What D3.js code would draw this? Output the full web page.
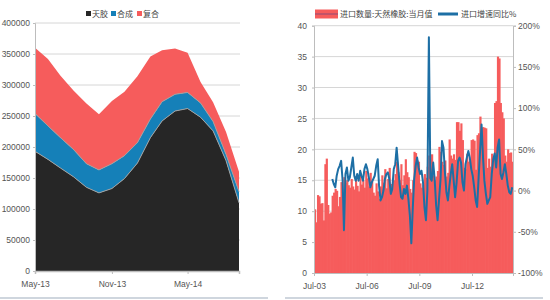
<!DOCTYPE html>
<html>
<head>
<meta charset="utf-8">
<script src="https://cdn.jsdelivr.net/npm/d3@7"></script>
<style>
body { margin: 0; background: #fff; }
svg { display: block; font-family: Lato, "Noto Sans CJK SC", sans-serif; }
.axis text { fill: #555; font-size: 8.5px; }
.axis path, .axis line { stroke: #bdbdbd; }
.legend text { font-family: "Noto Sans CJK SC", sans-serif; font-size: 8px; fill: #444; }
</style>
</head>
<body>
<svg id="chart" width="550" height="300"></svg>
<script>
//Left panel data: monthly imports by type (tons)
const stackMonths = ["2013-05", "2013-06", "2013-07", "2013-08", "2013-09", "2013-10", "2013-11", "2013-12",
    "2014-01", "2014-02", "2014-03", "2014-04", "2014-05", "2014-06", "2014-07", "2014-08", "2014-09"];
const naturalRubber = [193000, 180000, 166000, 152000, 135000, 126000, 133000, 149000, 174000,
    215000, 242000, 258000, 262000, 248000, 226000, 178000, 110000];
const syntheticRubber = [61000, 54000, 49000, 44000, 38000, 37000, 40000, 37000, 33000,
    30000, 31000, 27000, 26000, 23000, 15000, 10000, 18000];
const compoundRubber = [106000, 108000, 100000, 95000, 97000, 90000, 101000, 103000, 107000,
    101000, 83000, 74000, 64000, 34000, 31000, 36000, 32000];
const stackKeys = ["天胶", "合成", "复合"];
const stackColors = ["#262626", "#1580b8", "#f65c5c"];
const stackTicks = ["2013-05", "2013-11", "2014-05"];

//Right panel data: natural rubber imports (10k tons) and YoY growth (%)
const importStart = "2003-07";
const importVolume = [
    10.3, 8.2, 12.6, 12.4, 11.2, 11.3, 8.5, 17.6, 18.5, 11.0, 9.6, 9.8,
    12.5, 13.0, 13.6, 13.3, 10.8, 12.3, 14.7, 13.0, 15.5, 14.6, 15.0, 14.2,
    13.8, 15.2, 14.0, 13.5, 15.6, 14.1, 13.2, 16.0, 14.3, 15.0, 13.8, 16.5,
    15.3, 14.0, 16.2, 14.8, 13.0, 12.5, 14.5, 13.2, 12.0, 14.0, 15.8, 14.6,
    16.8, 13.7, 15.2, 17.0, 14.4, 13.6, 15.0, 16.0, 18.0, 16.3, 15.0, 17.6,
    14.2, 15.8, 18.4, 16.3, 15.5, 13.6, 13.0, 15.0, 19.6, 19.4, 18.2, 18.0,
    14.5, 13.8, 14.2, 16.0, 15.4, 17.2, 19.0, 18.6, 19.2, 15.8, 15.0, 15.6,
    16.5, 20.4, 19.6, 18.0, 17.5, 18.2, 15.6, 16.2, 21.6, 19.0, 18.5, 19.2,
    18.3, 24.4, 24.4, 23.0, 24.2, 21.5, 17.0, 16.8, 19.3, 18.0, 18.2, 21.5,
    21.6, 21.4, 16.7, 22.3, 22.6, 25.3, 23.5, 23.6, 23.5, 23.4, 17.0, 18.5,
    17.2, 19.3, 18.8, 27.5, 27.8, 35.0, 34.7, 27.5, 26.0, 25.0, 19.0, 18.0,
    20.0, 19.4, 19.5, 18.0];
const yoyStart = "2004-07";
const importYoY = [
    14, 8, 4, 18, 26, 30, 36, 12, -48, 20, 28, 12,
    16, 28, 40, 18, 12, 20, 12, 24, 18, 12, 26, 32,
    26, 16, 4, 10, 14, 18, 30, 38, 6, -12, -8, 0,
    14, 20, 22, 14, -4, 2, 26, 32, 52, 30, 8, -8,
    -10, 2, -4, 6, -10, -30, -64, -20, 14, 30, 40, 28,
    20, 24, 10, -20, -36, 0, 186, 15, 12, 34, 14, -18,
    -36, -10, 14, 60, 52, 22, -2, -12, 4, 20, 32, 12,
    -8, 10, 36, 40, 34, 10, 0, 32, 40, 48, 40, 26,
    18, 4, -12, -20, 16, 48, 80, 40, 12, -4, -16, -12,
    -8, 20, 38, 45, 28, 52, 62, 20, 14, 22, 32, 20,
    6, -2, -4, 4];
const importTicks = ["2003-07", "2006-07", "2009-07", "2012-07"];
const volumeLabel = "进口数量:天然橡胶:当月值";
const yoyLabel = "进口增速同比%";

const parseMonth = d3.timeParse("%Y-%m");
const fmtMonth = d3.timeFormat("%b-%y");
const svg = d3.select("#chart");

//Bottom separators
svg.append("line").attr("x1", 0).attr("x2", 268).attr("y1", 298).attr("y2", 298)
    .attr("stroke", "#cfd6de").attr("stroke-width", 2);
svg.append("line").attr("x1", 285).attr("x2", 543).attr("y1", 298).attr("y2", 298)
    .attr("stroke", "#cfd6de").attr("stroke-width", 2);

// ---------- Left panel ----------
const xL = d3.scaleTime().domain(d3.extent(stackMonths, parseMonth)).range([35, 239]);
const yL = d3.scaleLinear().domain([0, 400000]).range([271, 23]);

svg.append("g").selectAll("line")
    .data(yL.ticks(8).filter(d => d > 0))
    .join("line")
    .attr("x1", 35).attr("x2", 240)
    .attr("y1", d => yL(d)).attr("y2", d => yL(d))
    .attr("stroke", "#d6d6d6");

const stackRows = stackMonths.map((m, i) => ({
    date: parseMonth(m),
    "天胶": naturalRubber[i],
    "合成": syntheticRubber[i],
    "复合": compoundRubber[i]
}));
const layers = d3.stack().keys(stackKeys)(stackRows);

const area = d3.area()
    .x(d => xL(d.data.date))
    .y0(d => yL(d[0]))
    .y1(d => yL(d[1]));
svg.append("g").selectAll("path")
    .data(layers)
    .join("path")
    .attr("d", area)
    .attr("fill", (d, i) => stackColors[i]);

//light outline on layer tops
const layerTop = d3.line().x(d => xL(d.data.date)).y(d => yL(d[1]));
svg.append("g").selectAll("path")
    .data(layers.slice(0, 2))
    .join("path")
    .attr("d", layerTop)
    .attr("fill", "none")
    .attr("stroke", "#a0a0a0")
    .attr("stroke-width", 1);

svg.append("g").attr("class", "axis")
    .attr("transform", "translate(35,0)")
    .call(d3.axisLeft(yL).ticks(8).tickFormat(d3.format("d")).tickSize(2).tickPadding(3));

const xAxisL = svg.append("g").attr("class", "axis")
    .attr("transform", "translate(0,271)")
    .call(d3.axisBottom(xL).tickValues(stackTicks.map(parseMonth)).tickFormat(fmtMonth)
        .tickSize(3).tickPadding(7));
xAxisL.select(".domain").attr("stroke", "#d49a9a").attr("stroke-width", 1.5);

//Left legend
const legL = svg.append("g").attr("class", "legend");
const legX = [86, 111, 137];
stackKeys.forEach((k, i) => {
    legL.append("rect").attr("x", legX[i]).attr("y", 11).attr("width", 5).attr("height", 5)
        .attr("fill", stackColors[i]);
    legL.append("text").attr("x", legX[i] + 6).attr("y", 16.5).text(k);
});

// ---------- Right panel ----------
const months = d3.timeMonth.range(parseMonth(importStart),
    d3.timeMonth.offset(parseMonth(importStart), importVolume.length));
const xR = d3.scaleTime()
    .domain([months[0], d3.timeMonth.offset(months[months.length - 1], 1)])
    .range([314, 513]);
const yR = d3.scaleLinear().domain([0, 40]).range([273, 25.7]);
const yPct = d3.scaleLinear().domain([-100, 200]).range([273, 25.7]);

svg.append("g").selectAll("line")
    .data(yR.ticks(8).filter(d => d > 0))
    .join("line")
    .attr("x1", 314).attr("x2", 513)
    .attr("y1", d => yR(d)).attr("y2", d => yR(d))
    .attr("stroke", "#d6d6d6");

//bars overlap slightly so no seams show between months
svg.append("g").selectAll("rect")
    .data(importVolume)
    .join("rect")
    .attr("x", (d, i) => xR(months[i]))
    .attr("width", (d, i) => xR(d3.timeMonth.offset(months[i], 1)) - xR(months[i]) + 0.7)
    .attr("y", d => yR(d))
    .attr("height", d => yR(0) - yR(d))
    .attr("fill", "#f65c5c");

const yoyMonths = importYoY.map((d, i) => d3.timeMonth.offset(parseMonth(yoyStart), i));
const yoyLine = d3.line()
    .x((d, i) => xR(yoyMonths[i]) + 0.7)
    .y(d => yPct(d));
svg.append("path")
    .datum(importYoY)
    .attr("d", yoyLine)
    .attr("fill", "none")
    .attr("stroke", "#1d6fa5")
    .attr("stroke-width", 2)
    .attr("stroke-linejoin", "round");

svg.append("g").attr("class", "axis")
    .attr("transform", "translate(314,0)")
    .call(d3.axisLeft(yR).ticks(8).tickSize(2).tickPadding(5));
svg.append("g").attr("class", "axis")
    .attr("transform", "translate(513,0)")
    .call(d3.axisRight(yPct).tickValues(d3.range(-100, 201, 50)).tickFormat(d => d + "%")
        .tickSize(3).tickPadding(2));
svg.append("g").attr("class", "axis")
    .attr("transform", "translate(0,273)")
    .call(d3.axisBottom(xR).tickValues(importTicks.map(parseMonth)).tickFormat(fmtMonth)
        .tickSize(3).tickPadding(7));

//Right legend
const legR = svg.append("g").attr("class", "legend");
legR.append("rect").attr("x", 315).attr("y", 9.5).attr("width", 23).attr("height", 9).attr("fill", "#f65c5c");
legR.append("line").attr("x1", 315).attr("x2", 338).attr("y1", 14).attr("y2", 14)
    .attr("stroke", "#b0506e").attr("stroke-width", 1.5);
legR.append("text").attr("x", 340).attr("y", 17).text(volumeLabel);
legR.append("line").attr("x1", 438).attr("x2", 458).attr("y1", 14).attr("y2", 14)
    .attr("stroke", "#1d6fa5").attr("stroke-width", 3);
legR.append("text").attr("x", 461).attr("y", 17).text(yoyLabel);
</script>
</body>
</html>
